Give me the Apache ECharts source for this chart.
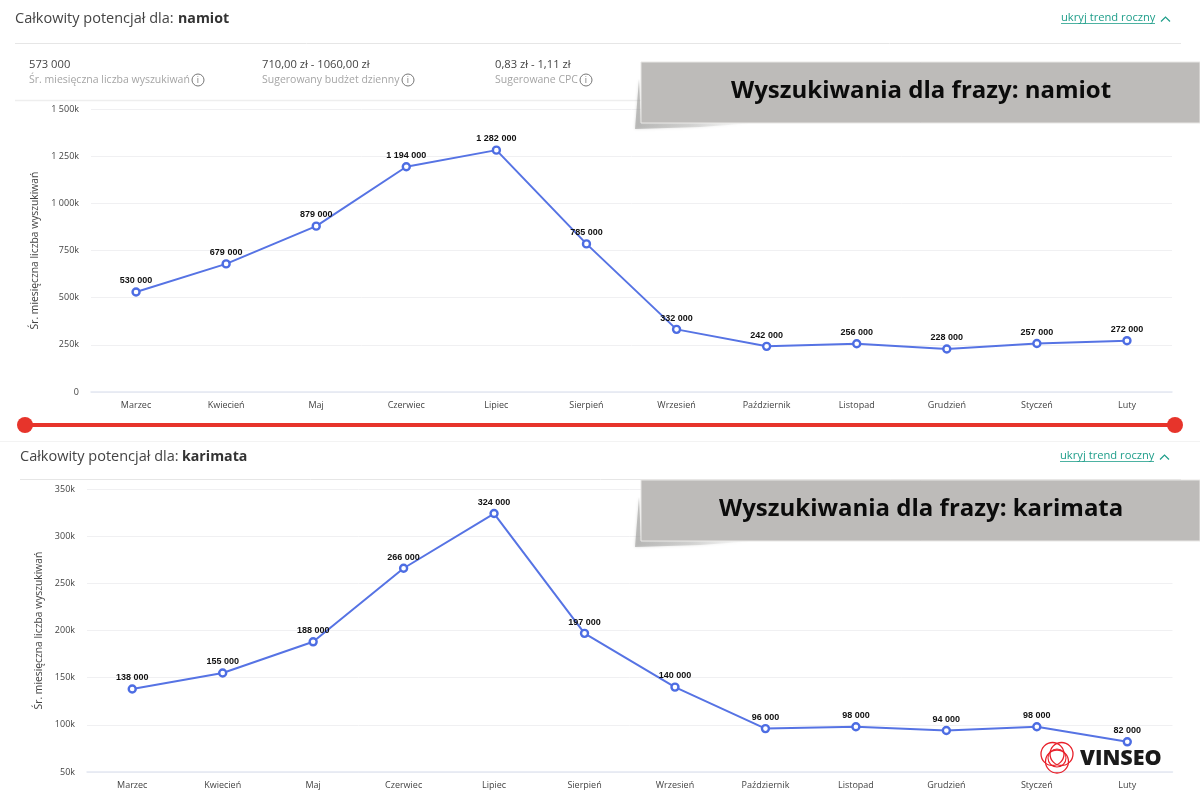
<!DOCTYPE html>
<html lang="pl"><head><meta charset="utf-8">
<style>html,body{margin:0;padding:0;background:#fff}#c{width:1200px;height:800px}</style>
<script src="https://cdn.jsdelivr.net/npm/echarts@6/dist/echarts.min.js"></script>
</head><body><div id="c"></div>
<script>
const months = ['Marzec','Kwiecień','Maj','Czerwiec','Lipiec','Sierpień','Wrzesień','Październik','Listopad','Grudzień','Styczeń','Luty'];
const namiotValues = [530000,679000,879000,1194000,1282000,785000,332000,242000,256000,228000,257000,272000];
const karimataValues = [138000,155000,188000,266000,324000,197000,140000,96000,98000,94000,98000,82000];
const axisName = 'Śr. miesięczna liczba wyszukiwań';
const titlePrefix = 'Całkowity potencjał dla:';
const toggleText = 'ukryj trend roczny';
const stats = [
  ['573 000','Śr. miesięczna liczba wyszukiwań'],
  ['710,00 zł - 1060,00 zł','Sugerowany budżet dzienny'],
  ['0,83 zł - 1,11 zł','Sugerowane CPC']
];
const spaced = v => String(v).replace(/\B(?=(\d{3})+$)/g,' ');
const kLabel = v => v === 0 ? '0' : spaced(v/1000) + 'k';
const F = '"Open Sans"', TEAL = '#1f9e8a', LINE = '#5673e4';

function xAxis(i){return {type:'category',gridIndex:i,data:months,boundaryGap:true,
  axisLine:{lineStyle:{color:'#e3e8f2',width:1.5}},axisTick:{show:false},
  axisLabel:{color:'#444',fontFamily:F,fontSize:9,margin:8.5,interval:0}};}
function yAxis(i,min,max,step,nameGap){return {type:'value',gridIndex:i,min,max,interval:step,
  name:axisName,nameLocation:'middle',nameGap,nameRotate:90,
  nameTextStyle:{color:'#444',fontFamily:F,fontSize:10.3},
  axisLine:{show:false},axisTick:{show:false},
  splitLine:{lineStyle:{color:'#f0f0f2',width:1}},
  axisLabel:{color:'#444',fontFamily:F,fontSize:9,margin:12,formatter:kLabel}};}
function series(i,data){return {type:'line',xAxisIndex:i,yAxisIndex:i,data,z:3,
  symbol:'circle',symbolSize:7,showSymbol:true,animation:false,
  lineStyle:{color:LINE,width:2},
  itemStyle:{color:'#fff',borderColor:'#4d6de3',borderWidth:2.4},
  label:{show:true,position:'top',distance:2,color:'#111',fontFamily:'"Liberation Sans"',fontSize:9,fontWeight:'bold',formatter:p=>spaced(p.value)}};}

function text(x,y,t,o={}){return {type:'text',x,y,z:o.z||5,style:Object.assign({text:t,fontFamily:F,fontSize:13,fill:'#444',textVerticalAlign:'middle'},o)};}
function hline(x1,x2,y,c,w){return {type:'line',z:1,shape:{x1,y1:y,x2,y2:y},style:{stroke:c,lineWidth:w||1}};}
function infoIcon(x,y){return [
  {type:'circle',z:5,shape:{cx:x,cy:y,r:6},style:{fill:'none',stroke:'#777',lineWidth:1}},
  text(x,y,'i',{fontSize:9,fill:'#777',textAlign:'center'})];}
function chevron(x,y){return {type:'polyline',z:5,shape:{points:[[x,y+2.5],[x+4.5,y-2],[x+9,y+2.5]]},style:{fill:'none',stroke:TEAL,lineWidth:1.2}};}
function titleRow(x,y,word,wordX){
  return [text(x,y,titlePrefix,{fontSize:14.5,fill:'#444'}),
          text(wordX,y,word,{fontSize:14.2,fontWeight:'bold',fill:'#333'})];
}
function toggle(x,y){return [
  text(x,y+1,toggleText,{fontSize:11.2,fill:TEAL}),
  hline(x,x+94,y+6.5,TEAL,0.8),
  chevron(x+100,y+2)];}
function banner(y,label,tx){
  const fade = {type:'linear',x:0,y:0,x2:1,y2:0,colorStops:[
    {offset:0,color:'rgba(150,150,148,.55)'},{offset:.45,color:'rgba(170,170,168,.4)'},{offset:1,color:'rgba(200,200,198,0)'}]};
  return [
  {type:'polygon',z:6,shape:{points:[[635,y+67],[639,y+17],[641,y+61],[755,y+61],[700,y+65]]},
   style:{fill:fade,shadowColor:'rgba(130,130,128,.55)',shadowBlur:3}},
  {type:'rect',z:7,shape:{x:641,y:y,width:559,height:61},style:{fill:'#bdbbb9',stroke:'#e8e7e5',lineWidth:1}},
  text(tx,y+29,label,{z:8,fontSize:24,fontWeight:'bold',fill:'#0b0b0b',shadowColor:'rgba(0,0,0,.35)',shadowBlur:3,shadowOffsetY:1})];}
function ring(cx,cy,r,w){return {type:'circle',z:9,shape:{cx,cy,r},style:{fill:'none',stroke:'#e8202a',lineWidth:w||1.3}};}

const graphic = [
  ...titleRow(15,19,'namiot',178),
  ...toggle(1061,17),
  hline(15,1181,43.5,'#e6e6e6'),
  hline(15,1181,100.5,'#eeeeee',1.5),
  ...stats.flatMap((s,i)=>{
    const x=[29,262,495][i], ix=[198,408,586][i];
    return [text(x,65,s[0],{fontSize:11.2,fill:'#444'}),
            text(x,80,s[1],{fontSize:10.5,fill:'#a5a5a5'}),
            ...infoIcon(ix,80)];}),
  ...banner(62,'Wyszukiwania dla frazy: namiot',731),
  hline(25,1175,425,'#e7342b',4),
  {type:'circle',z:4,shape:{cx:25,cy:425,r:8},style:{fill:'#e7342b'}},
  {type:'circle',z:4,shape:{cx:1175,cy:425,r:8},style:{fill:'#e7342b'}},
  hline(0,1200,441.5,'#f3f3f3'),
  ...titleRow(20,457,'karimata',182),
  ...toggle(1060,455),
  hline(20,1181,479.5,'#e6e6e6'),
  ...banner(480,'Wyszukiwania dla frazy: karimata',719),
  ring(1052.5,754,11.5), ring(1061.5,754,11.5), ring(1057,761.5,11.5), ring(1057,758,9,1.1),
  text(1080,759,'VINSEO',{z:9,fontSize:21.5,fontWeight:800,fill:'#1a1a1a'})
];

const option = {
  backgroundColor:'#fff',animation:false,
  grid:[{left:91,top:109,width:1081,height:283},{left:87,top:489,width:1085.5,height:283}],
  xAxis:[xAxis(0),xAxis(1)],
  yAxis:[yAxis(0,0,1500000,250000,48),yAxis(1,50000,350000,50000,40)],
  series:[series(0,namiotValues),series(1,karimataValues)],
  graphic:{elements:graphic}
};
const chart = echarts.init(document.getElementById('c'),null,{renderer:'canvas'});
chart.setOption(option);
</script></body></html>
